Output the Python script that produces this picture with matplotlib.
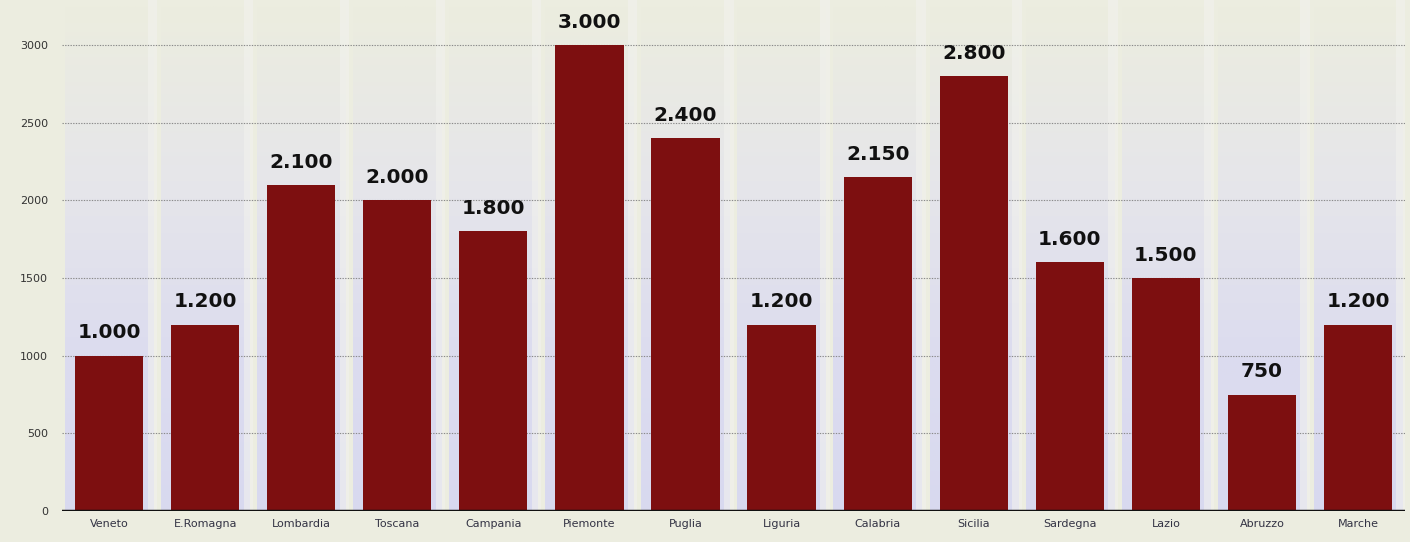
import matplotlib
matplotlib.use("Agg")
import matplotlib.pyplot as plt
import numpy as np
from matplotlib.colors import LinearSegmentedColormap

regions = ["Veneto", "E.Romagna", "Lombardia", "Toscana", "Campania", "Piemonte", "Puglia",
           "Liguria", "Calabria", "Sicilia", "Sardegna", "Lazio", "Abruzzo", "Marche"]
values = [1000, 1200, 2100, 2000, 1800, 3000, 2400, 1200, 2150, 2800, 1600, 1500, 750, 1200]
yticks = [0, 500, 1000, 1500, 2000, 2500, 3000]

def fmt(v):
    return f"{v:,}".replace(",", ".")

fig = plt.figure(figsize=(14.1, 5.42), dpi=100)
fig.patch.set_facecolor("#ecede0")
ax = fig.add_axes([0.044, 0.0572, 0.9525, 0.9428])
ax.set_facecolor("#ecede0")

x = np.arange(len(regions))
cmap = LinearSegmentedColormap.from_list("band", ["#eceddf", "#e6e6ea", "#dcdcef", "#d8d9ef"])
grad = np.linspace(0, 1, 256).reshape(-1, 1)
for xi in x:
    ax.imshow(grad, extent=(xi - 0.46, xi + 0.46, -120, 3250), aspect="auto",
              cmap=cmap, origin="upper", zorder=0, interpolation="bilinear")
    ax.axvspan(xi + 0.40, xi + 0.5, color="#f2f2ee", alpha=0.6, lw=0, zorder=0.5)

for yt in yticks[1:]:
    ax.axhline(yt, color="#8a8a8a", lw=0.8, ls=(0, (1.2, 1.2)), zorder=1)

ax.bar(x, values, width=0.71, color="#7d0f10", zorder=3)
ax.axhline(0, color="#111111", lw=2.5, zorder=4)

for xi, v in zip(x, values):
    ax.text(xi, v + 85, fmt(v), ha="center", va="bottom", fontsize=14.5,
            fontweight="heavy", color="#111111", family="DejaVu Sans", zorder=5)

ax.set_xlim(-0.49, len(regions) - 0.51)
ax.set_ylim(0, 3290)
ax.set_yticks(yticks)
ax.set_yticklabels([str(t) for t in yticks], fontsize=8, color="#333333")
ax.set_xticks(x)
ax.set_xticklabels(regions, fontsize=8, color="#333344")
ax.tick_params(axis="both", length=0)
ax.tick_params(axis="y", pad=10)
ax.tick_params(axis="x", pad=6)
for s in ax.spines.values():
    s.set_visible(False)

fig.savefig("out.png", dpi=100, facecolor=fig.get_facecolor())
